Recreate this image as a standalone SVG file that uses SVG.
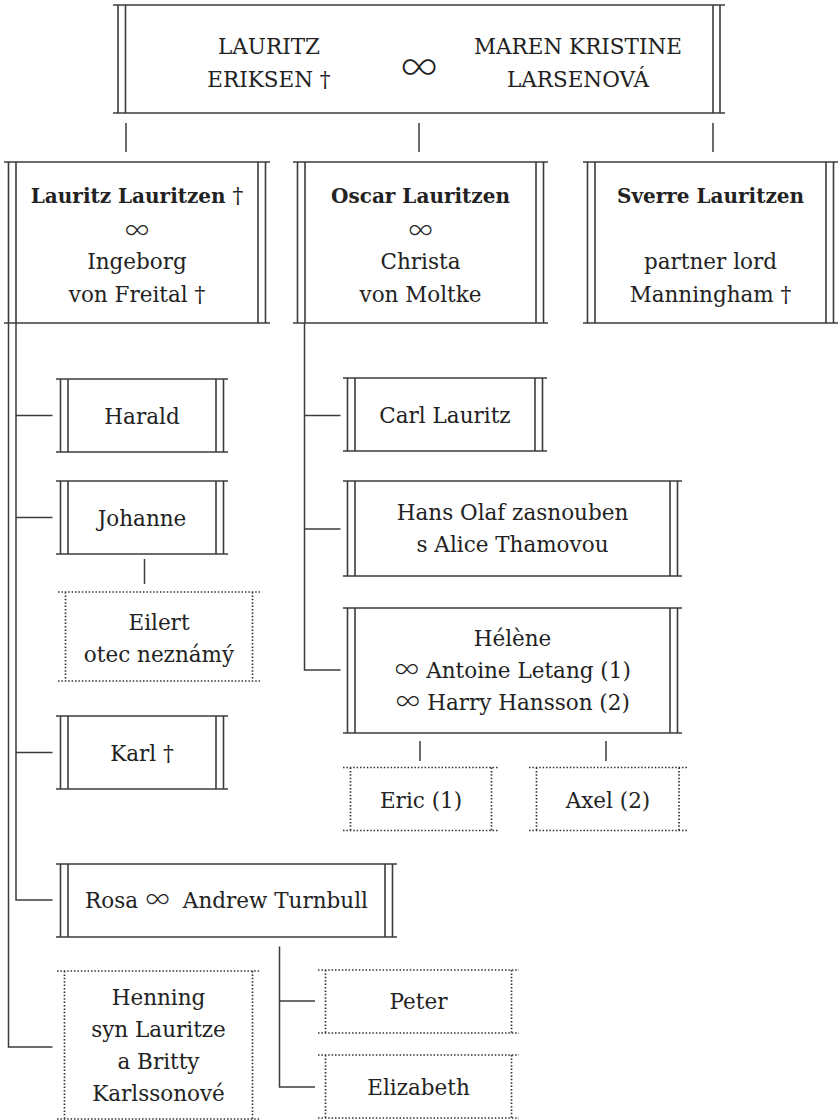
<svg xmlns="http://www.w3.org/2000/svg" width="838" height="1120" viewBox="0 0 838 1120">
<style>
.bx{fill:none;stroke:#3c3c3c;stroke-width:1.6}
.dt{fill:none;stroke:#333;stroke-width:1.7;stroke-dasharray:1.5 1.9}
.cn{fill:none;stroke:#3c3c3c;stroke-width:1.5}
text{font-family:"DejaVu Serif","Liberation Serif",serif;font-size:21.5px;fill:#222;text-anchor:middle}
.b{font-weight:bold;font-size:20px}
.inf{font-family:Inter,"Noto Sans",sans-serif;font-weight:200;font-size:28px}
.big{font-family:Inter,"Noto Sans",sans-serif;font-weight:200;font-size:42px}
</style>
<rect width="838" height="1120" fill="#fff"/>
<g id="connectors">
<path class="cn" d="M126 123V152M419 123V152M713 123V152"/>
<path class="cn" d="M8.5 323V1047H52.5M16 323V900H52.5M16 415.5H52.5M16 517.5H52.5M16 752.5H52.5"/>
<path class="cn" d="M144.5 559V584"/>
<path class="cn" d="M304.5 323V670H340.5M304.5 415.5H340.5M304.5 529H340.5"/>
<path class="cn" d="M420 741V761M606 741V761"/>
<path class="cn" d="M279.5 946.5V1087H315M279.5 1001H315"/>
</g>
<g id="n-parents">
<path class="bx" d="M113 5H725M113 113H725M118 5V113M125.5 5V113M713 5V113M720 5V113"/>
<text x="269" y="54">LAURITZ</text>
<text x="269" y="87">ERIKSEN †</text>
<text class="big" x="419" y="80">∞</text>
<text x="578" y="54">MAREN KRISTINE</text>
<text x="578" y="87">LARSENOVÁ</text>
</g>
<g id="n-lauritz">
<path class="bx" d="M4 162H270M4 323H270M8.5 162V323M16 162V323M258 162V323M265.5 162V323"/>
<text x="137" y="203"><tspan class="b">Lauritz Lauritzen</tspan> †</text>
<text class="inf" x="137" y="239">∞</text>
<text x="137" y="269">Ingeborg</text>
<text x="137" y="302">von Freital †</text>
</g>
<g id="n-oscar">
<path class="bx" d="M293 162H548M293 323H548M297.5 162V323M305 162V323M536 162V323M543.5 162V323"/>
<text class="b" x="420.5" y="203">Oscar Lauritzen</text>
<text class="inf" x="420.5" y="239">∞</text>
<text x="420.5" y="269">Christa</text>
<text x="420.5" y="302">von Moltke</text>
</g>
<g id="n-sverre">
<path class="bx" d="M583 162H838M583 323H838M587.5 162V323M595 162V323M826 162V323M833.5 162V323"/>
<text class="b" x="710.5" y="203">Sverre Lauritzen</text>
<text x="710.5" y="269">partner lord</text>
<text x="710.5" y="302">Manningham †</text>
</g>
<g id="n-harald">
<path class="bx" d="M56 379H228M56 452H228M60.5 379V452M68 379V452M216 379V452M223.5 379V452"/>
<text x="142" y="423.5">Harald</text>
</g>
<g id="n-johanne">
<path class="bx" d="M56 481H228M56 554H228M60.5 481V554M68 481V554M216 481V554M223.5 481V554"/>
<text x="142" y="525.5">Johanne</text>
</g>
<g id="n-eilert">
<path class="dt" d="M58 592H260M58 681H260M65.5 592V681M252.5 592V681"/>
<text x="159" y="629.5">Eilert</text>
<text x="159" y="661.5">otec neznámý</text>
</g>
<g id="n-karl">
<path class="bx" d="M56 716H228M56 789H228M60.5 716V789M68 716V789M216 716V789M223.5 716V789"/>
<text x="142" y="760.5">Karl †</text>
</g>
<g id="n-rosa">
<path class="bx" d="M56 864H397M56 937H397M60.5 864V937M68 864V937M385 864V937M392.5 864V937"/>
<text x="226.5" y="908">Rosa <tspan class="inf">∞</tspan><tspan dx="6"> Andrew Turnbull</tspan></text>
</g>
<g id="n-henning">
<path class="dt" d="M57 971H260M57 1119H260M64.5 971V1119M252.5 971V1119"/>
<text x="158.5" y="1005">Henning</text>
<text x="158.5" y="1037">syn Lauritze</text>
<text x="158.5" y="1069">a Britty</text>
<text x="158.5" y="1101">Karlssonové</text>
</g>
<g id="n-carl">
<path class="bx" d="M343 378H547M343 451H547M347.5 378V451M355 378V451M535 378V451M542.5 378V451"/>
<text x="445" y="422.5">Carl Lauritz</text>
</g>
<g id="n-hans">
<path class="bx" d="M343 481H682M343 576H682M347.5 481V576M355 481V576M670 481V576M677.5 481V576"/>
<text x="512.5" y="520">Hans Olaf zasnouben</text>
<text x="512.5" y="552">s Alice Thamovou</text>
</g>
<g id="n-helene">
<path class="bx" d="M343 608H682M343 733H682M347.5 608V733M355 608V733M670 608V733M677.5 608V733"/>
<text x="512.5" y="646">Hélène</text>
<text x="512.5" y="678"><tspan class="inf">∞</tspan> Antoine Letang (1)</text>
<text x="512.5" y="710"><tspan class="inf">∞</tspan> Harry Hansson (2)</text>
</g>
<g id="n-eric">
<path class="dt" d="M343 767.5H499M343 830.5H499M350.5 767.5V830.5M491.5 767.5V830.5"/>
<text x="421" y="808">Eric (1)</text>
</g>
<g id="n-axel">
<path class="dt" d="M529 767.5H687M529 830.5H687M536.5 767.5V830.5M679 767.5V830.5"/>
<text x="608" y="808">Axel (2)</text>
</g>
<g id="n-peter">
<path class="dt" d="M318 970H519M318 1033H519M325.5 970V1033M511.5 970V1033"/>
<text x="418.5" y="1009">Peter</text>
</g>
<g id="n-elizabeth">
<path class="dt" d="M318 1055H519M318 1118H519M325.5 1055V1118M511.5 1055V1118"/>
<text x="418.5" y="1095">Elizabeth</text>
</g>
</svg>
